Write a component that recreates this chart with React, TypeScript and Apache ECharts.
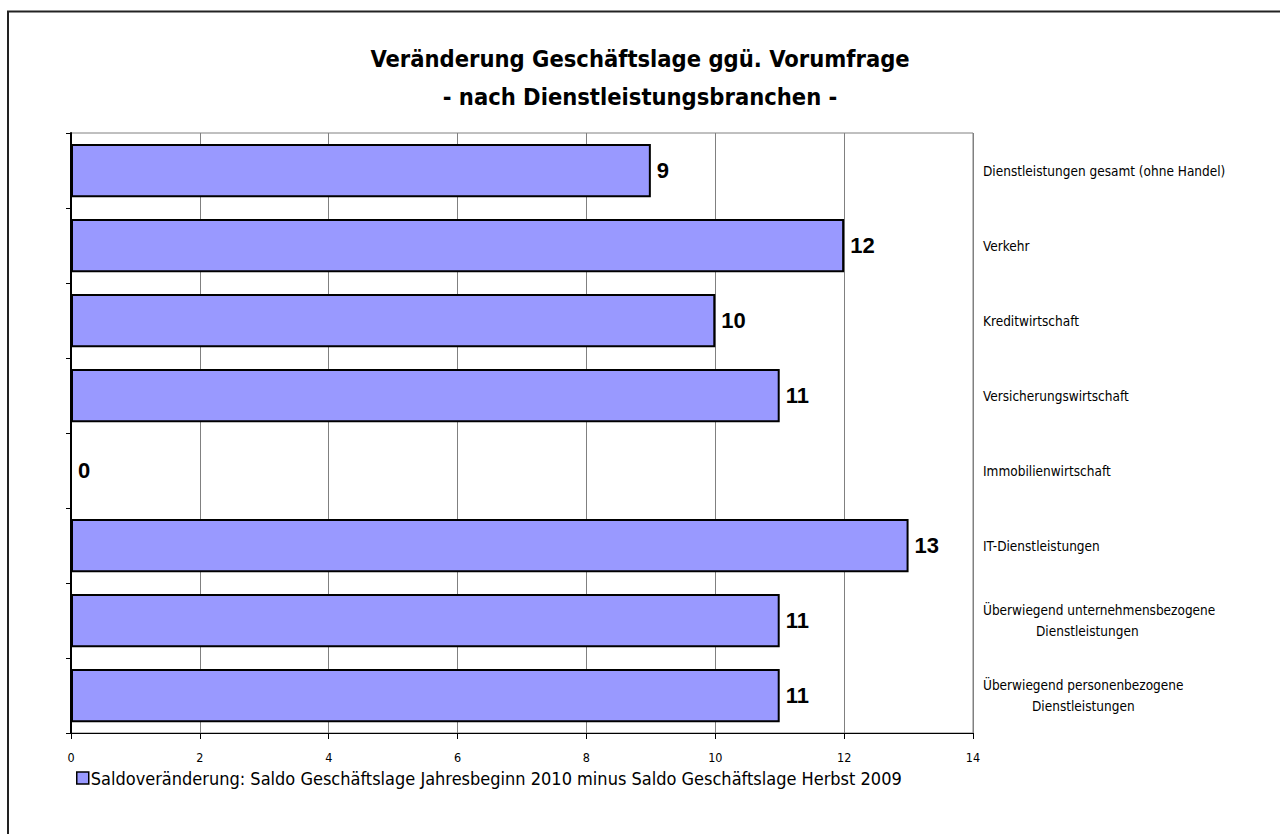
import React, { useEffect, useRef } from "react";
import * as echarts from "echarts";

const categories = [
  "Dienstleistungen gesamt (ohne Handel)",
  "Verkehr",
  "Kreditwirtschaft",
  "Versicherungswirtschaft",
  "Immobilienwirtschaft",
  "IT-Dienstleistungen",
  "Überwiegend unternehmensbezogene\nDienstleistungen",
  "Überwiegend personenbezogene\nDienstleistungen",
];
const values = [9, 12, 10, 11, 0, 13, 11, 11];
const seriesName =
  "Saldoveränderung: Saldo Geschäftslage Jahresbeginn 2010 minus Saldo Geschäftslage Herbst 2009";
const titleText = "Veränderung Geschäftslage ggü. Vorumfrage\n- nach Dienstleistungsbranchen -";
const xMin = 0;
const xMax = 14;
const xInterval = 2;

const FONT = "'DejaVu Sans Condensed', 'Liberation Sans Narrow', sans-serif";

export default function App() {
  const ref = useRef<HTMLDivElement>(null);
  useEffect(() => {
    document.body.style.margin = "0";
    if (!ref.current) return;
    const chart = echarts.init(ref.current, null, { renderer: "svg" });
    const labelFormatter = (v: string) => {
      const parts = v.split("\n");
      if (parts.length === 1) return `{a|${parts[0]}}`;
      const pad = parts[0].startsWith("Überwiegend u") ? 53 : 49;
      return `{a|${parts[0]}}\n{b${pad}|${parts[1]}}`;
    };
    const labelBase = { fontFamily: FONT, fontSize: 13.5, color: "#000", lineHeight: 21 };
    chart.setOption({
      animation: false,
      backgroundColor: "#fff",
      title: {
        text: titleText,
        left: "center",
        top: 35,
        textStyle: {
          fontFamily: FONT,
          fontWeight: "bold",
          fontSize: 23.5,
          lineHeight: 38,
          color: "#000",
        },
      },
      legend: {
        left: 71,
        top: 764,
        itemWidth: 12,
        itemHeight: 12,
        icon: "rect",
        itemStyle: { borderColor: "#000", borderWidth: 1.5 },
        textStyle: { fontFamily: FONT, fontSize: 18, color: "#000", padding: [0, 0, 0, -3] },
        data: [seriesName],
      },
      grid: {
        left: 71,
        right: 307,
        top: 133,
        bottom: 101,
        show: true,
        borderColor: "#808080",
        borderWidth: 1,
        backgroundColor: "transparent",
      },
      xAxis: {
        type: "value",
        min: xMin,
        max: xMax,
        interval: xInterval,
        axisLine: { show: true, lineStyle: { color: "#000", width: 1 } },
        axisTick: { show: true, length: 6, lineStyle: { color: "#000" } },
        axisLabel: { fontFamily: FONT, fontSize: 12.5, color: "#000", margin: 18 },
        splitLine: { show: true, lineStyle: { color: "#808080", width: 1 } },
      },
      yAxis: [
        {
          type: "category",
          data: categories,
          inverse: true,
          position: "left",
          axisLine: { show: true, lineStyle: { color: "#000", width: 2 } },
          axisTick: { show: true, length: 5, inside: false, lineStyle: { color: "#000" } },
          axisLabel: { show: false },
          splitLine: { show: false },
        },
        {
          type: "category",
          data: categories,
          inverse: true,
          position: "right",
          axisLine: { show: false },
          axisTick: { show: false },
          axisLabel: {
            show: true,
            margin: 10,
            align: "left",
            formatter: labelFormatter,
            rich: {
              a: { ...labelBase },
              b53: { ...labelBase, padding: [0, 0, 0, 53] },
              b49: { ...labelBase, padding: [0, 0, 0, 49] },
            },
          },
          splitLine: { show: false },
        },
      ],
      series: [
        {
          name: seriesName,
          type: "bar",
          yAxisIndex: 0,
          data: values,
          barCategoryGap: "29%",
          itemStyle: { color: "#9999FF", borderColor: "#000", borderWidth: 2 },
          label: {
            show: true,
            position: "right",
            distance: 6,
            fontFamily: "'Liberation Sans', Arial, sans-serif",
            fontWeight: "bold",
            fontSize: 22,
            color: "#000",
          },
        },
      ],
      graphic: [
        {
          type: "rect",
          shape: { x: 8, y: 11.5, width: 1400, height: 1000 },
          style: { fill: "none", stroke: "#222", lineWidth: 2 },
          silent: true,
        },
      ],
    });
    return () => chart.dispose();
  }, []);
  return <div ref={ref} style={{ width: 1280, height: 834 }} />;
}
